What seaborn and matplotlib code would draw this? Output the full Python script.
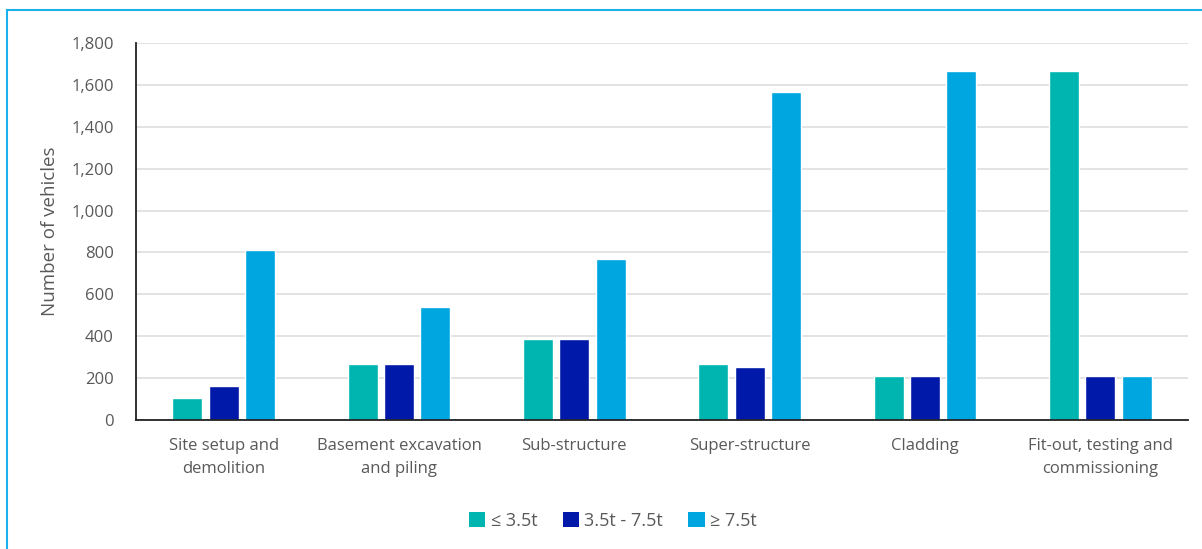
import matplotlib
matplotlib.use("Agg")
import matplotlib.pyplot as plt
import seaborn as sns
import pandas as pd
from matplotlib.patches import Rectangle, Patch

categories = ["Site setup and\ndemolition", "Basement excavation\nand piling", "Sub-structure",
              "Super-structure", "Cladding", "Fit-out, testing and\ncommissioning"]
series = ["≤ 3.5t", "3.5t - 7.5t", "≥ 7.5t"]
light_vals = [105, 268, 386, 268, 208, 1668]
medium_vals = [162, 268, 386, 251, 208, 208]
heavy_vals = [810, 540, 770, 1565, 1668, 208]
colors = ["#00B5B0", "#0019A8", "#00A6E0"]

rows = []
for name, vals in zip(series, [light_vals, medium_vals, heavy_vals]):
    for c, v in zip(categories, vals):
        rows.append({"Stage": c, "Size": name, "Vehicles": v})
df = pd.DataFrame(rows)

sns.set_theme(style="white")
plt.rcParams["font.family"] = ["Open Sans", "DejaVu Sans"]
text_color = "#595959"

fig = plt.figure(figsize=(12.02, 5.49), dpi=100)
ax = fig.add_axes([136/1202, 1-420/549, (1188-136)/1202, (420-43)/549])

sns.barplot(data=df, x="Stage", y="Vehicles", hue="Size", order=categories, hue_order=series,
            palette=colors, width=0.62, gap=0.17, ax=ax, legend=False, saturation=1)

ax.set_ylim(0, 1800)
ax.set_yticks(range(0, 1801, 200))
ax.set_yticklabels([f"{v:,}" for v in range(0, 1801, 200)])
ax.yaxis.grid(True, color="#DEDEDE", linewidth=1.2)
ax.set_axisbelow(True)
for s in ["top", "right"]:
    ax.spines[s].set_visible(False)
ax.spines["left"].set_color("#222222")
ax.spines["bottom"].set_color("#222222")
ax.spines["left"].set_linewidth(1.3)
ax.spines["bottom"].set_linewidth(1.3)
ax.tick_params(axis="both", length=0, colors=text_color, labelsize=12)
ax.tick_params(axis="y", pad=16)
ax.tick_params(axis="x", pad=13)
for lbl in ax.get_xticklabels():
    lbl.set_linespacing(1.6)
ax.set_xlabel("")
ax.set_ylabel("Number of vehicles", color=text_color, fontsize=13.5, labelpad=9)

handles = [Patch(facecolor=c, edgecolor="none") for c in colors]
fig.legend(handles, series, loc="center", bbox_to_anchor=(613/1202, 1-521/549), ncol=3,
           frameon=False, fontsize=13, handlelength=0.9, handleheight=0.9,
           handletextpad=0.3, columnspacing=1.4, labelcolor=text_color)

fig.patches.append(Rectangle((7/1202, -0.05), 1.2, 1-10/549+0.05, transform=fig.transFigure,
                             fill=False, edgecolor="#19B2EA", linewidth=1.5))

fig.savefig("out.png", dpi=100)
